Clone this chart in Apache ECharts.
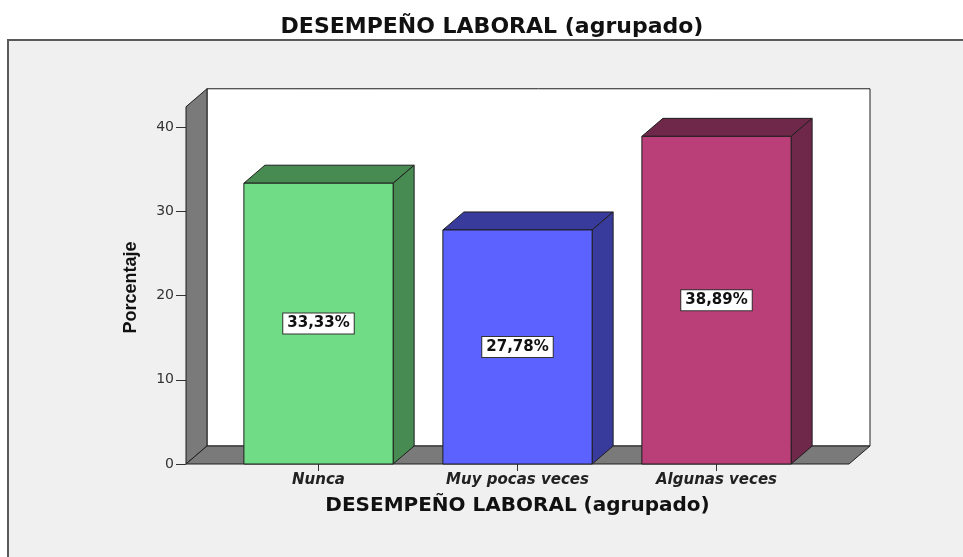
<!DOCTYPE html>
<html>
<head>
<meta charset="utf-8">
<title>DESEMPEÑO LABORAL (agrupado)</title>
<script src="https://cdn.jsdelivr.net/npm/echarts@6/dist/echarts.min.js"></script>
<style>
  html, body { margin: 0; padding: 0; background: #fff; }
  #chart { width: 963px; height: 557px; }
</style>
</head>
<body>
<div id="chart"></div>
<script>
// datos
var categorias = ['Nunca', 'Muy pocas veces', 'Algunas veces'];
var porcentajes = [33.33, 27.78, 38.89];
var ticksY = [0, 10, 20, 30, 40];

// colores de cada barra (cara frontal / techo y lateral)
var colorFrente = ['#70dc85', '#5c62ff', '#ba3e78'];
var colorOscuro = ['#478a52', '#393b9c', '#70284a'];
var borde = '#1e1e1e';

// perspectiva 3D tipo SPSS
var DX = 21, DY = 18;
var MARGEN = 33;        // suelo que sobresale a cada lado de las categorias
var ALTO_PARED = 42.4;  // altura de las paredes en unidades del eje

function etiqueta(v) {
  return v.toFixed(2).replace('.', ',') + '%';
}

function paredes(params, api) {
  var cs = params.coordSys;
  var x0 = cs.x - MARGEN;
  var x1 = cs.x + cs.width + MARGEN;
  var yb = api.coord([0, 0])[1];
  var yt = api.coord([0, ALTO_PARED])[1];
  var st = { stroke: borde, lineWidth: 1 };
  return {
    type: 'group',
    children: [
      { type: 'rect', shape: { x: x0 + DX, y: yt - DY, width: x1 - x0, height: yb - yt },
        style: Object.assign({ fill: '#ffffff' }, st) },
      { type: 'polygon', shape: { points: [[x0, yb], [x0, yt], [x0 + DX, yt - DY], [x0 + DX, yb - DY]] },
        style: Object.assign({ fill: '#7a7a7a' }, st) },
      { type: 'polygon', shape: { points: [[x0, yb], [x1, yb], [x1 + DX, yb - DY], [x0 + DX, yb - DY]] },
        style: Object.assign({ fill: '#7a7a7a' }, st) }
    ]
  };
}

function barra3d(params, api) {
  var i = params.dataIndex;
  var v = api.value(1);
  var top = api.coord([api.value(0), v]);
  var base = api.coord([api.value(0), 0]);
  var w = api.size([1, 0])[0] * 0.75;
  var L = top[0] - w / 2, R = top[0] + w / 2;
  var yt = top[1], yb = base[1];
  return {
    type: 'group',
    children: [
      { type: 'polygon', shape: { points: [[L, yt], [L + DX, yt - DY], [R + DX, yt - DY], [R, yt]] },
        style: { fill: colorOscuro[i], stroke: borde, lineWidth: 1 } },
      { type: 'polygon', shape: { points: [[R, yt], [R + DX, yt - DY], [R + DX, yb - DY], [R, yb]] },
        style: { fill: colorOscuro[i], stroke: borde, lineWidth: 1 } },
      { type: 'rect', shape: { x: L, y: yt, width: w, height: yb - yt },
        style: { fill: colorFrente[i], stroke: borde, lineWidth: 1 } },
      { type: 'text', x: top[0], y: (yt + yb) / 2,
        style: {
          text: etiqueta(v), align: 'center', verticalAlign: 'middle',
          font: 'bold 15px "DejaVu Sans"', fill: '#111',
          backgroundColor: '#fff', borderColor: '#333', borderWidth: 1,
          padding: [3, 4, 2, 4]
        } }
    ]
  };
}

var chart = echarts.init(document.getElementById('chart'));
chart.setOption({
  backgroundColor: '#ffffff',
  animation: false,
  title: {
    text: 'DESEMPEÑO LABORAL (agrupado)',
    left: 492,
    textAlign: 'center',
    top: 16,
    padding: 0,
    textStyle: { fontFamily: 'DejaVu Sans', fontWeight: 'bold', fontSize: 22, color: '#111' }
  },
  graphic: [{
    type: 'rect', z: -10,
    shape: { x: 8, y: 40, width: 1000, height: 600 },
    style: { fill: '#f0f0f0', stroke: '#5a5a5a', lineWidth: 2 }
  }],
  grid: { left: 219, right: 147, top: 127, bottom: 93 },
  xAxis: {
    type: 'category',
    data: categorias,
    name: 'DESEMPEÑO LABORAL (agrupado)',
    nameLocation: 'middle',
    nameGap: 32,
    nameTextStyle: { fontFamily: 'DejaVu Sans', fontWeight: 'bold', fontSize: 20, color: '#111' },
    axisLine: { show: false },
    axisTick: { show: true, interval: 0, alignWithLabel: true, length: 7, lineStyle: { color: '#333', width: 1 } },
    axisLabel: {
      margin: 9,
      fontFamily: 'DejaVu Sans', fontWeight: 'bold', fontStyle: 'italic',
      fontSize: 15, color: '#222'
    },
    splitLine: { show: false }
  },
  yAxis: {
    type: 'value',
    min: ticksY[0],
    max: ticksY[ticksY.length - 1],
    interval: ticksY[1] - ticksY[0],
    offset: MARGEN,
    name: 'Porcentaje',
    nameLocation: 'middle',
    nameGap: 46,
    nameRotate: 90,
    nameTextStyle: {
      fontFamily: 'Liberation Sans', fontWeight: 'bold', fontSize: 18, color: '#111',
      padding: [0, 0, 0, 16]
    },
    axisLine: { show: false },
    axisTick: { show: true, length: 10, lineStyle: { color: '#333' } },
    axisLabel: { margin: 12, fontFamily: 'DejaVu Sans', fontSize: 14, color: '#333' },
    splitLine: { show: false }
  },
  series: [
    {
      type: 'custom',
      z: 1,
      silent: true,
      clip: false,
      renderItem: paredes,
      data: [[categorias[0], 0]]
    },
    {
      type: 'custom',
      z: 2,
      clip: false,
      renderItem: barra3d,
      data: categorias.map(function (c, i) { return [c, porcentajes[i]]; })
    }
  ]
});
</script>
</body>
</html>
